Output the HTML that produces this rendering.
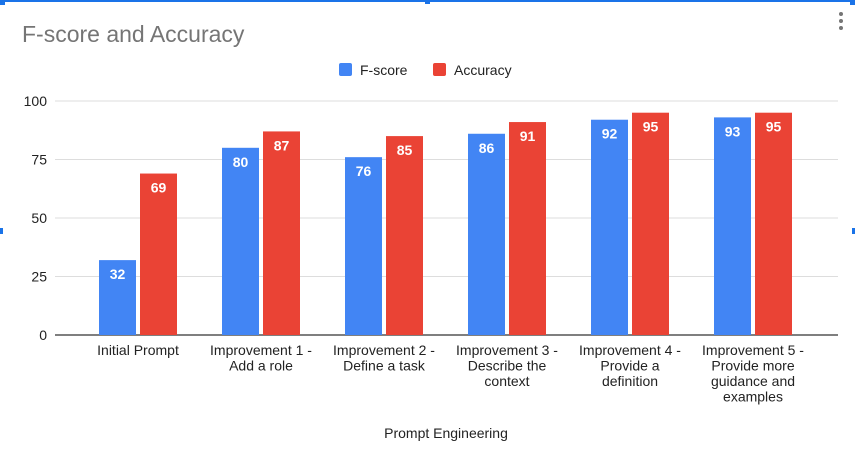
<!DOCTYPE html>
<html><head><meta charset="utf-8"><style>
body{margin:0;background:#fff;width:855px;height:457px;overflow:hidden;font-family:"Liberation Sans",Arial,sans-serif}
</style></head><body>
<svg width="855" height="457" xmlns="http://www.w3.org/2000/svg" font-family="Liberation Sans, Arial, sans-serif">
<rect x="0" y="0" width="855" height="2" fill="#1a73e8"/>
<rect x="0" y="0" width="5" height="5" fill="#1a73e8"/>
<rect x="425" y="0" width="5" height="4" fill="#1a73e8"/>
<rect x="850" y="0" width="5" height="5" fill="#1a73e8"/>
<rect x="0" y="228" width="3" height="6" fill="#1a73e8"/>
<rect x="852" y="228" width="3" height="6" fill="#1a73e8"/>
<g fill="#757575"><circle cx="841" cy="14" r="2"/><circle cx="841" cy="21" r="2"/><circle cx="841" cy="28" r="2"/></g>
<text x="22" y="42" font-size="23" fill="#757575">F-score and Accuracy</text>
<g>
<rect x="339" y="63" width="13" height="13" rx="2" fill="#4285f4"/>
<text x="360" y="75" font-size="14" fill="#222">F-score</text>
<rect x="433" y="63" width="13" height="13" rx="2" fill="#ea4335"/>
<text x="454" y="75" font-size="14" fill="#222">Accuracy</text>
</g>
<g id="grid"></g><g id="bars"></g><g id="xl"></g>
<text x="446" y="438" font-size="14" fill="#222" text-anchor="middle">Prompt Engineering</text>
</svg>
<script>
const categories=[["Initial Prompt"],["Improvement 1 -","Add a role"],["Improvement 2 -","Define a task"],["Improvement 3 -","Describe the","context"],["Improvement 4 -","Provide a","definition"],["Improvement 5 -","Provide more","guidance and","examples"]];
const fscore=[32,80,76,86,92,93];
const accuracy=[69,87,85,91,95,95];
const yTicks=[0,25,50,75,100];
const NS="http://www.w3.org/2000/svg";
const y0=335,y1=101,xL=55,xR=838,gx0=76.5,step=123,bw=37,gap=4;
const y=v=>y0-(y0-y1)*v/100;
const cx=i=>gx0+step*(i+0.5);
function mk(t,a,p){const e=document.createElementNS(NS,t);for(const k in a)e.setAttribute(k,a[k]);p.appendChild(e);return e;}
const grid=document.getElementById('grid'),bars=document.getElementById('bars'),xl=document.getElementById('xl');
yTicks.forEach(v=>{
 const l=mk('line',{x1:xL,x2:xR,y1:y(v),y2:y(v),stroke:v==0?'#333':'#ddd','stroke-width':v==0?1.3:1},grid);
 
 
 const t=mk('text',{x:47,y:y(v)+5,'font-size':14,fill:'#222','text-anchor':'end'},grid);
 t.textContent=v;
 
 
});
categories.forEach((c,i)=>{
 [[fscore[i],'#4285f4',cx(i)-gap/2-bw,'fscore'],[accuracy[i],'#ea4335',cx(i)+gap/2,'accuracy']].forEach(([v,col,x,n])=>{
  const r=mk('rect',{x:x,y:y(v),width:bw,height:y0-y(v),fill:col},bars);
  
  
  const t=mk('text',{x:x+bw/2,y:y(v)+19,'font-size':14,'font-weight':'bold',fill:'#fff','text-anchor':'middle'},bars);
  t.textContent=v;
  
  
 });
 c.forEach((s,j)=>{
  const t=mk('text',{x:cx(i),y:355+j*15.5,'font-size':14,fill:'#222','text-anchor':'middle'},xl);
  t.textContent=s;
  
  
 });
});
</script>
</body></html>
